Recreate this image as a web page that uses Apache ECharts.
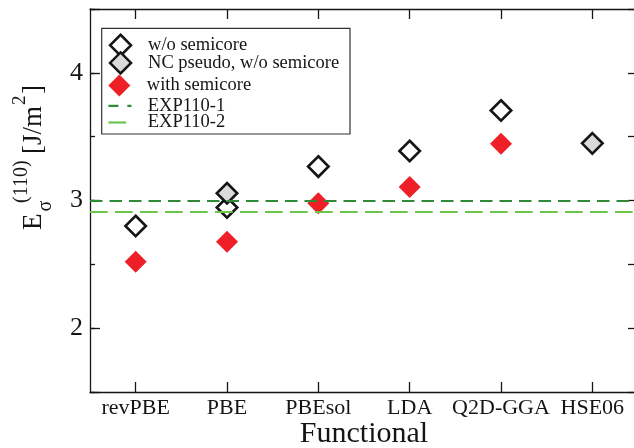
<!DOCTYPE html>
<html>
<head>
<meta charset="utf-8">
<script src="https://cdn.jsdelivr.net/npm/echarts@6/dist/echarts.min.js"></script>
<style>
  html, body { margin: 0; padding: 0; background: #fff; }
  #chart { width: 634px; height: 448px; }
</style>
</head>
<body>
<div id="chart"></div>
<script>
// Surface energy of the (110) facet for each exchange-correlation functional
const functionals = ['revPBE', 'PBE', 'PBEsol', 'LDA', 'Q2D-GGA', 'HSE06'];
const withoutSemicore = [2.80, 2.945, 3.266, 3.388, 3.705, null];
const ncPseudoWithoutSemicore = [null, 3.057, null, null, null, 3.448];
const withSemicore = [2.52, 2.677, 2.979, 3.106, 3.445, null];
const exp110_1 = 3.00;
const exp110_2 = 2.906;
const yTickLabels = [2, 3, 4];
const yRange = [1.5, 4.5];

const serif = 'Liberation Serif';
const ink = '#151515';
const darkGreen = '#2f8b37';
const lightGreen = '#6cc44a';
const red = '#ee1f26';
const grey = '#dadada';

const chart = echarts.init(document.getElementById('chart'), null, { renderer: 'canvas' });

const frameLine = { show: true, onZero: false, lineStyle: { color: ink, width: 1.3 } };

// y-axis title: E with subscript sigma and superscript (110), unit [J/m^2]
const titleParts = [
  { text: 'E', x: 0, fs: 27, base: 0 },
  { text: 'σ', x: 18.5, fs: 20, base: 9 },
  { text: '(110)', x: 27, fs: 20, base: -15 },
  { text: '[J/m', x: 76, fs: 27, base: 0 },
  { text: '2', x: 125, fs: 19, base: -17 },
  { text: ']', x: 136, fs: 27, base: 0 }
];

const legendCommon = {
  orient: 'horizontal',
  padding: 0,
  itemGap: 0,
  selectedMode: false,
  symbolKeepAspect: true,
  z: 10,
  textStyle: { fontFamily: serif, fontSize: 18.5, color: ink }
};
const legendText = pad => Object.assign({}, legendCommon.textStyle, { padding: [0, 0, 0, pad] });

const option = {
  animation: false,
  backgroundColor: '#fff',
  grid: { left: 90, top: 9, width: 548, height: 383, containLabel: false, outerBoundsMode: 'none' },
  xAxis: [
    {
      type: 'category',
      data: functionals,
      position: 'bottom',
      boundaryGap: true,
      axisLine: frameLine,
      axisTick: { show: true, inside: true, length: 10, alignWithLabel: true, lineStyle: { color: ink, width: 1.3 } },
      axisLabel: { show: true, interval: 0, margin: 5, fontFamily: serif, fontSize: 22, color: ink },
      splitLine: { show: false },
      name: 'Functional',
      nameLocation: 'middle',
      nameGap: 27,
      nameMoveOverlap: false,
      nameTextStyle: { fontFamily: serif, fontSize: 30, color: ink }
    },
    {
      type: 'category',
      data: functionals,
      position: 'top',
      boundaryGap: true,
      axisLine: frameLine,
      axisTick: { show: true, inside: true, length: 10, alignWithLabel: true, lineStyle: { color: ink, width: 1.3 } },
      axisLabel: { show: false },
      splitLine: { show: false }
    }
  ],
  yAxis: [
    {
      type: 'value',
      position: 'left',
      min: yRange[0],
      max: yRange[1],
      splitNumber: 3,
      axisLine: frameLine,
      axisTick: { show: true, inside: true, length: 10, lineStyle: { color: ink, width: 1.3 } },
      axisLabel: {
        show: true, margin: 7, fontFamily: serif, fontSize: 26, color: ink,
        formatter: v => (yTickLabels.indexOf(v) >= 0 ? String(v) : '')
      },
      splitLine: { show: false }
    },
    {
      type: 'value',
      position: 'left',
      min: yRange[0],
      max: yRange[1],
      interval: 0.5,
      axisLine: { show: false },
      axisTick: { show: true, inside: true, length: 5, lineStyle: { color: ink, width: 1.3 } },
      axisLabel: { show: false },
      splitLine: { show: false }
    },
    {
      type: 'value',
      position: 'right',
      min: yRange[0],
      max: yRange[1],
      interval: 0.5,
      axisLine: frameLine,
      axisTick: { show: true, inside: true, length: 10, lineStyle: { color: ink, width: 1.3 } },
      axisLabel: { show: false },
      splitLine: { show: false }
    }
  ],
  legend: [
    Object.assign({}, legendCommon, {
      data: ['w/o semicore'], left: 108.8, top: 33.5, itemWidth: 21, itemHeight: 21,
      itemStyle: { borderWidth: 2.5 }, textStyle: legendText(12)
    }),
    Object.assign({}, legendCommon, {
      data: ['NC pseudo, w/o semicore'], left: 108.8, top: 51.2, itemWidth: 21, itemHeight: 21,
      itemStyle: { borderWidth: 2.5 }, textStyle: legendText(12)
    }),
    Object.assign({}, legendCommon, {
      data: ['with semicore'], left: 108.3, top: 74.5, itemWidth: 22, itemHeight: 22,
      textStyle: legendText(11.5)
    }),
    Object.assign({}, legendCommon, {
      data: ['EXP110-1'], left: 107.3, top: 96.3, itemWidth: 23, itemHeight: 14,
      itemStyle: { opacity: 0 },
      lineStyle: { width: 2.2, type: [10, 9] },
      textStyle: legendText(11.4)
    }),
    Object.assign({}, legendCommon, {
      data: ['EXP110-2'], left: 107.3, top: 113, itemWidth: 23, itemHeight: 14,
      itemStyle: { opacity: 0 },
      lineStyle: { width: 2.2, type: [17.7, 7.3] },
      textStyle: legendText(11.4)
    })
  ],
  graphic: [
    {
      type: 'rect',
      z: 1,
      shape: { x: 101.7, y: 28.3, width: 248.3, height: 105.7 },
      style: { fill: '#fff', stroke: '#333', lineWidth: 1.2 }
    },
    {
      type: 'group',
      x: 43,
      y: 230,
      rotation: Math.PI / 2,
      children: titleParts.map(p => ({
        type: 'text',
        x: p.x,
        y: p.base - 0.3375 * p.fs,
        style: {
          text: p.text,
          font: p.fs + 'px "' + serif + '"',
          fill: ink,
          align: 'left',
          verticalAlign: 'middle',
          textAlign: 'left',
          textVerticalAlign: 'middle'
        }
      }))
    }
  ],
  series: [
    {
      name: 'w/o semicore',
      type: 'scatter',
      data: withoutSemicore,
      symbol: 'diamond',
      symbolSize: 20.5,
      z: 3,
      itemStyle: { color: '#fff', borderColor: ink, borderWidth: 2.6, opacity: 1 }
    },
    {
      name: 'NC pseudo, w/o semicore',
      type: 'scatter',
      data: ncPseudoWithoutSemicore,
      symbol: 'diamond',
      symbolSize: 20.5,
      z: 4,
      itemStyle: { color: grey, borderColor: ink, borderWidth: 2.6, opacity: 1 }
    },
    {
      name: 'with semicore',
      type: 'scatter',
      data: withSemicore,
      symbol: 'diamond',
      symbolSize: 22,
      z: 3,
      itemStyle: { color: red, opacity: 1 }
    },
    {
      name: 'EXP110-1',
      type: 'line',
      data: [],
      symbol: 'none',
      z: 6,
      itemStyle: { color: darkGreen },
      lineStyle: { color: darkGreen, width: 2.2, type: [12.5, 7] },
      markLine: {
        silent: true,
        z: 6,
        symbol: ['none', 'none'],
        label: { show: false },
        lineStyle: { color: darkGreen, width: 2.2, type: [12.5, 7] },
        data: [{ yAxis: exp110_1 }]
      }
    },
    {
      name: 'EXP110-2',
      type: 'line',
      data: [],
      symbol: 'none',
      z: 6,
      itemStyle: { color: lightGreen },
      lineStyle: { color: lightGreen, width: 2.2, type: [17.7, 7.3] },
      markLine: {
        silent: true,
        z: 6,
        symbol: ['none', 'none'],
        label: { show: false },
        lineStyle: { color: lightGreen, width: 2.2, type: [17.7, 7.3] },
        data: [{ yAxis: exp110_2 }]
      }
    }
  ]
};

chart.setOption(option);
</script>
</body>
</html>
